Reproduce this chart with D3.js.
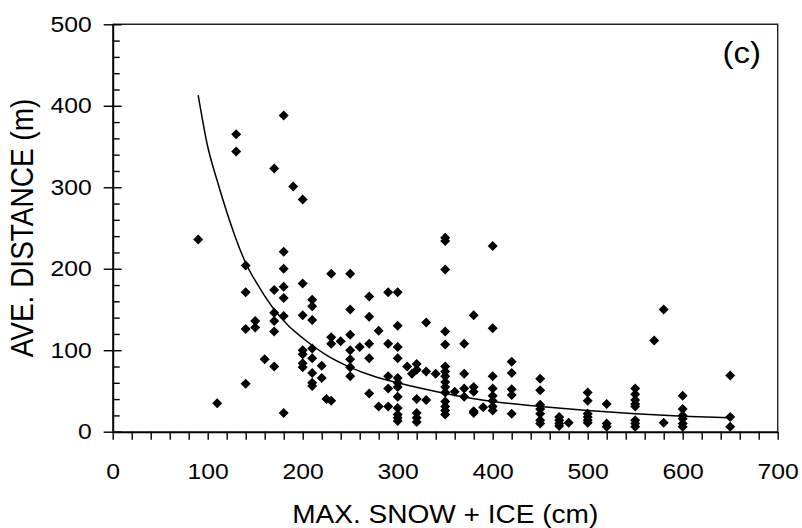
<!DOCTYPE html>
<html>
<head>
<meta charset="utf-8">
<script src="https://cdn.jsdelivr.net/npm/d3@7"></script>
<style>
	body { margin: 0; background: #fff; }
	text { font-family: "Liberation Sans", Arial, sans-serif; fill: #000; }
</style>
</head>
<body>
<div id="chart"></div>
<script>
// Data
// -----------------------

// snow + ice levels (cm) and the distances (m) observed at each level
const snowLevels = [90, 110, 130, 140, 150, 160, 170, 180, 190, 200, 210, 220, 225, 230, 240,
	250, 260, 270, 280, 290, 300, 310, 315, 320, 330, 340, 350, 360, 370, 380, 390, 400,
	420, 450, 470, 480, 500, 520, 550, 570, 580, 600, 650];
const distances = [
	[236], [35], [365, 344], [204, 171, 126, 59], [136, 128], [89],
	[323, 174, 146, 136, 123, 80], [388, 221, 200, 178, 164, 142, 23], [301],
	[285, 182, 143, 100, 95, 84, 79], [162, 154, 137, 102, 90, 72, 60, 56], [81, 66], [40],
	[194, 116, 108, 38], [111], [194, 150, 119, 100, 89, 79, 68], [104],
	[166, 141, 108, 90, 47], [124, 31], [171, 108, 68, 53, 31],
	[171, 130, 104, 90, 66, 60, 55, 43, 29, 21, 17, 13], [80], [71],
	[83, 76, 40, 23, 17, 12], [134, 74, 39], [71],
	[238, 234, 199, 123, 107, 80, 74, 68, 61, 55, 48, 37, 31, 26, 21], [49],
	[108, 71, 53, 43], [143, 55, 49, 25, 23], [30], [228, 127, 68, 53, 44, 38, 31, 26],
	[86, 72, 52, 45, 22], [65, 51, 33, 28, 22, 14, 10], [18, 14, 10, 7], [11],
	[48, 38, 22, 18, 14, 11], [34, 10, 6], [53, 46, 39, 34, 31, 14, 10, 6], [112],
	[150, 11], [44, 28, 20, 16, 10, 6], [69, 18, 6]
];

// fitted curve
const fitSnow = [90, 100, 110, 120, 130, 140, 155, 170, 185, 200, 225, 250, 275, 300, 350, 400, 450, 500, 550, 600, 650];
const fitDist = [413, 350, 308, 270, 236, 207, 176, 150, 130, 115, 94, 79, 68, 60, 47, 37, 31, 26, 22, 19, 17];

const xLabel = "MAX. SNOW + ICE (cm)";
const yLabel = "AVE. DISTANCE (m)";
const panelLabel = "(c)";


class SnowScatter {

	constructor(mainDivId) {
		this.margin = {top: 24.3, right: 24.3, bottom: 96.3, left: 112.7};
		this.width = 802 - this.margin.left - this.margin.right;
		this.height = 528 - this.margin.top - this.margin.bottom;
		this.sx = 1.1; // the scan is a bit wider than tall

		this.points = snowLevels.flatMap((s, i) => distances[i].map(d => [s, d]));
		this.fit = fitSnow.map((s, i) => [s, fitDist[i]]);

		this.x = d3.scaleLinear().domain([0, 700]).range([0, this.width]);
		this.y = d3.scaleLinear().domain([0, 500]).range([this.height, 0]);

		this.svg = d3.select("#" + mainDivId)
			.append("svg")
				.attr("width", 802)
				.attr("height", 528)
			.append("g")
				.attr("transform", "translate(" + this.margin.left + "," + this.margin.top + ")");
	}

	draw() {
		this.drawFrame();
		this.drawAxes();
		this.drawLabels();
		this.drawCurve();
		this.drawPoints();
	}

	// Layout
	// ------

	drawFrame() {
		this.svg.append("path")
			.attr("d", "M0,0H" + this.width + "V" + this.height)
			.attr("fill", "none")
			.attr("stroke", "#222")
			.attr("stroke-width", 1.4);
	}

	drawAxes() {
		let gx = this.svg.append("g")
			.attr("class", "x axis")
			.attr("transform", "translate(0," + this.height + ")")
			.call(d3.axisBottom(this.x)
				.tickValues(d3.range(0, 701, 20))
				.tickSize(8)
				.tickSizeOuter(0)
				.tickPadding(23.5)
				.tickFormat(d => d % 100 === 0 ? d : ""));
		gx.select(".domain").attr("stroke", "#000").attr("stroke-width", 2);
		gx.selectAll(".tick line").attr("stroke", "#000").attr("stroke-width", 1.4);
		gx.selectAll(".tick text")
			.attr("transform", "scale(" + this.sx + ",1)")
			.style("font-size", "22.5px");

		let gy = this.svg.append("g")
			.attr("class", "y axis")
			.call(d3.axisLeft(this.y)
				.tickValues(d3.range(0, 501, 20))
				.tickSize(0)
				.tickSizeOuter(0)
				.tickFormat(d => d % 100 === 0 ? d : ""));
		gy.select(".domain").attr("stroke", "#000").attr("stroke-width", 2);
		// majors cross the axis, minors sit inside
		gy.selectAll(".tick line")
			.attr("x1", d => d % 100 === 0 ? -9 : 0)
			.attr("x2", d => d % 100 === 0 ? 9 : 7)
			.attr("stroke", "#000")
			.attr("stroke-width", 1.4);
		gy.selectAll(".tick text")
			.attr("x", -21 / this.sx)
			.attr("transform", "scale(" + this.sx + ",1)")
			.style("font-size", "22.5px");
	}

	drawLabels() {
		this.svg.append("text")
			.attr("transform", "translate(" + this.x(350) + "," + (this.height + 91) + ") scale(" + this.sx + ",1)")
			.style("text-anchor", "middle")
			.style("font-size", "25.5px")
			.text(xLabel);

		this.svg.append("text")
			.attr("transform", "translate(" + (33 - this.margin.left) + "," + this.height / 2 + ") scale(" + this.sx + ",1) rotate(-90)")
			.style("text-anchor", "middle")
			.style("font-size", "28px")
			.text(yLabel);

		this.svg.append("text")
			.attr("transform", "translate(" + (761 - this.margin.left) + "," + (63 - this.margin.top) + ") scale(" + this.sx + ",1)")
			.style("text-anchor", "end")
			.style("font-size", "30px")
			.text(panelLabel);
	}

	// Data
	// ----

	drawCurve() {
		this.svg.append("path")
			.datum(this.fit)
			.attr("fill", "none")
			.attr("stroke", "#000")
			.attr("stroke-width", 1.5)
			.attr("d", d3.line()
				.curve(d3.curveMonotoneX)
				.x(d => this.x(d[0]))
				.y(d => this.y(d[1])));
	}

	drawPoints() {
		let diamond = d3.symbol().type(d3.symbolSquare).size(50);
		this.svg.append("g")
			.selectAll("path")
			.data(this.points)
			.join("path")
				.attr("d", diamond)
				.attr("transform", d => "translate(" + this.x(d[0]) + "," + this.y(d[1]) + ") rotate(45)")
				.attr("fill", "#000");
	}
}

let chart = new SnowScatter("chart");
chart.draw();
</script>
</body>
</html>
